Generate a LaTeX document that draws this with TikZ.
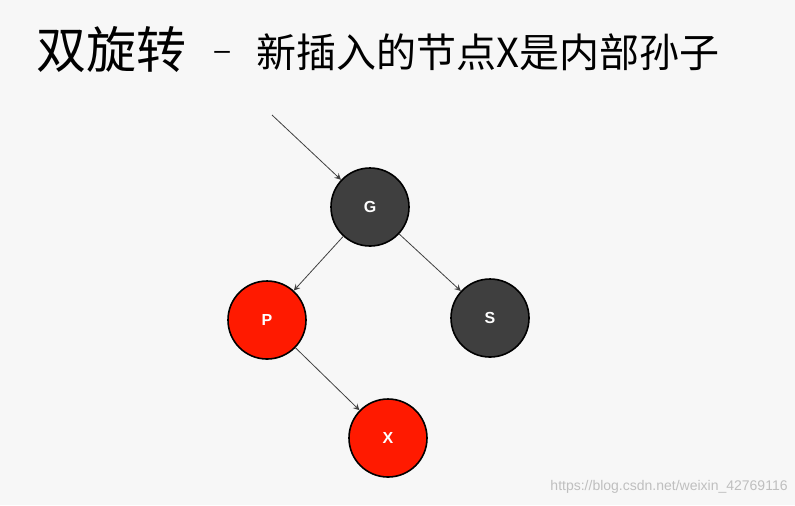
\documentclass[tikz,border=0pt]{standalone}
\usepackage{fontspec}
\setsansfont{Liberation Sans}
\newfontfamily\cjk{Noto Sans CJK SC}
\usetikzlibrary{arrows}
\definecolor{bgray}{HTML}{F7F7F7}
\definecolor{dnode}{HTML}{3F3F3F}
\definecolor{rnode}{HTML}{FF1A00}
\tikzset{
  rbnode/.style={circle,draw=black,line width=0.8pt,minimum size=39pt,inner sep=0pt,
    font=\sffamily\bfseries\fontsize{8}{8}\selectfont,text=white},
  blacknode/.style={rbnode,fill=dnode},
  rednode/.style={rbnode,fill=rnode},
  link/.style={black!75,line width=0.4pt,-stealth}
}
\begin{document}
\begin{tikzpicture}[x=0.5pt,y=-0.5pt]
   \fill [bgray] (0,0) rectangle (795,505);
   \useasboundingbox (0,0) rectangle (795,505);
   % title
   \node [anchor=west,inner sep=0pt] (title) at (36,50) {\cjk\fontsize{25}{25}\selectfont 双旋转};
   \node [anchor=west,inner sep=0pt] (dash) at (214,55) {\sffamily\fontsize{14}{14}\selectfont --};
   \node [anchor=west,inner sep=0pt] (subtitle) at (256,52) {\cjk\fontsize{20}{20}\selectfont 新插入的节点X是内部孙子};
   % tree
   \node [blacknode] (G) at (370,207) {G};
   \node [rednode] (P) at (267,320) {P};
   \node [blacknode] (S) at (490,318) {S};
   \node [rednode] (X) at (388,438) {X};
   \coordinate (root) at (272,115);
   \draw [link] (root) -- (G);
   \draw [link] (G) -- (P);
   \draw [link] (G) -- (S);
   \draw [link] (P) -- (X);
   % watermark
   \node [anchor=east,inner sep=0pt,text=black!25] (mark) at (788,487) {\sffamily\fontsize{7}{7}\selectfont https://blog.csdn.net/weixin\_42769116};
\end{tikzpicture}
\end{document}
